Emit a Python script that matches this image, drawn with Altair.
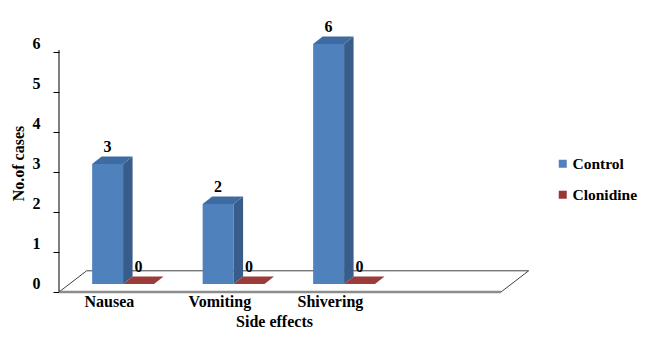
import altair as alt
import pandas as pd

# ---------------- data ----------------
categories = ["Nausea", "Vomiting", "Shivering"]
series = ["Control", "Clonidine"]
control_values = [3, 2, 6]
clonidine_values = [0, 0, 0]
y_ticks = [0, 1, 2, 3, 4, 5, 6]
x_title = "Side effects"
y_title = "No.of cases"

# ---------------- style ----------------
front_colors = ["#4F81BD", "#953735"]
side_colors = ["#385D8A", "#7A2C2A"]
top_colors = ["#3E6CA2", "#9A3C3A"]
FONT = "Liberation Serif"

PX_X = 110.5          # pixels per category slot
PX_Y = 40.0           # pixels per case
W, H = 471, 268
X_MAX = W / PX_X
Y_MIN = -0.2
Y_MAX = Y_MIN + H / PX_Y
BAR_START = 0.30
BAR_W = 0.28
DX = 9.5 / PX_X       # depth of bars
DY = 7.5 / PX_Y
N_SLOTS = 4
FLOOR_DX = 0.25
FLOOR_DY = 0.53
LABEL_POS = 0.456

values = {"Control": control_values, "Clonidine": clonidine_values}

front_rows, side_rows, top_rows, label_rows = [], [], [], []
for i, cat in enumerate(categories):
    for s, name in enumerate(series):
        v = values[name][i]
        x0 = i + BAR_START + s * BAR_W
        x1 = x0 + BAR_W
        bid = f"{cat}-{name}"
        front_rows.append({"bar": bid, "series": name, "x": x0, "x1": x1, "y": 0, "y1": v})
        side_rows += [
            {"bar": bid, "c": side_colors[s], "x": x1, "y": 0, "hi": v},
            {"bar": bid, "c": side_colors[s], "x": x1 + DX, "y": DY, "hi": v + DY},
        ]
        top_rows += [
            {"bar": bid, "c": top_colors[s], "y": v, "x": x0, "r": x1},
            {"bar": bid, "c": top_colors[s], "y": v + DY, "x": x0 + DX, "r": x1 + DX},
        ]
        label_rows.append({"x": (x0 + x1) / 2, "y": v, "t": str(v)})

front_df = pd.DataFrame(front_rows)
side_df = pd.DataFrame(side_rows)
top_df = pd.DataFrame(top_rows)
label_df = pd.DataFrame(label_rows)
cat_df = pd.DataFrame({"x": [i + LABEL_POS for i in range(len(categories))],
                       "y": [Y_MIN] * len(categories), "t": categories})

floor_outline = pd.DataFrame({
    "x": [0, FLOOR_DX, N_SLOTS + FLOOR_DX, N_SLOTS],
    "y": [Y_MIN, Y_MIN + FLOOR_DY, Y_MIN + FLOOR_DY, Y_MIN],
    "o": [0, 1, 2, 3],
})
floor_front = pd.DataFrame({"x": [0, N_SLOTS], "y": [Y_MIN, Y_MIN], "o": [0, 1]})
axis_df = pd.DataFrame({"x": [0], "y": [Y_MIN], "y1": [y_ticks[-1] - 0.15]})

xs = alt.Scale(domain=[0, X_MAX], nice=False, zero=False)
ys = alt.Scale(domain=[Y_MIN, Y_MAX], nice=False, zero=False)

AX_X = alt.Axis(
    labels=False, ticks=False, domain=False, grid=False, title=x_title,
    titleFont=FONT, titleFontSize=16, titleFontWeight="bold", titleColor="#000000",
    titleX=215, titleY=29, titleBaseline="middle", titleAlign="center")
AX_Y = alt.Axis(
    values=y_ticks, domain=False, grid=False, tickSize=6, tickColor="#000000",
    tickOffset=8, labelOffset=-9, labelPadding=13,
    labelFont=FONT, labelFontSize=16, labelFontWeight="bold", labelColor="#000000",
    title=y_title, titleFont=FONT, titleFontSize=16, titleFontWeight="bold",
    titleColor="#000000", titleX=-41, titleY=139, titleBaseline="middle",
    titleAlign="center", titleAngle=270)


def X(field):
    return alt.X(field, scale=xs, axis=AX_X)


def Y(field):
    return alt.Y(field, scale=ys, axis=AX_Y)


outline = alt.Chart(floor_outline).mark_line(color="#404040", strokeWidth=1).encode(
    x=X("x:Q"), y=Y("y:Q"), order="o:Q",
)
front_edge = alt.Chart(floor_front).mark_line(color="#8C8C8C", strokeWidth=2.5).encode(
    x=X("x:Q"), y=Y("y:Q"), order="o:Q",
)
axis_line = alt.Chart(axis_df).mark_rule(color="#000000", strokeWidth=1).encode(
    x=X("x:Q"), y=Y("y:Q"), y2="y1:Q",
)

front = alt.Chart(front_df).mark_rect(opacity=1).encode(
    x=X("x:Q"), x2="x1:Q",
    y=Y("y:Q"), y2="y1:Q",
    color=alt.Color("series:N", scale=alt.Scale(domain=series, range=front_colors),
                    legend=alt.Legend(
                        title=None, orient="none", legendX=496, legendY=132,
                        symbolType="square", symbolSize=64, symbolStrokeWidth=0,
                        symbolOpacity=1, labelFont=FONT, labelFontSize=15.5,
                        labelFontWeight="bold", labelColor="#000000",
                        rowPadding=14, labelOffset=2, padding=0)),
)

side = alt.Chart(side_df).mark_area(opacity=1).encode(
    x=X("x:Q"), y=Y("y:Q"), y2="hi:Q",
    detail="bar:N",
    color=alt.Color("c:N", scale=None, legend=None),
)
top = alt.Chart(top_df).mark_area(opacity=1, orient="horizontal").encode(
    y=Y("y:Q"), x=X("x:Q"), x2="r:Q",
    detail="bar:N",
    color=alt.Color("c:N", scale=None, legend=None),
)

value_labels = alt.Chart(label_df).mark_text(
    font=FONT, fontSize=16, fontWeight="bold", color="#000000", dy=-17, baseline="middle"
).encode(
    x=X("x:Q"), y=Y("y:Q"), text="t:N",
)
cat_labels = alt.Chart(cat_df).mark_text(
    font=FONT, fontSize=16, fontWeight="bold", color="#000000", dy=10, baseline="middle"
).encode(
    x=X("x:Q"), y=Y("y:Q"), text="t:N",
)

chart = alt.layer(
    outline, front_edge, axis_line, front, side, top, value_labels, cat_labels
).properties(
    width=W, height=H,
    padding={"left": 51, "top": 16, "right": 630 - 51 - W, "bottom": 322 - 16 - H},
    autosize=alt.AutoSizeParams(type="none"),
).configure_view(stroke=None).configure_axis(grid=False)

chart.save("out.html", embed_options={"renderer": "svg", "actions": False})
